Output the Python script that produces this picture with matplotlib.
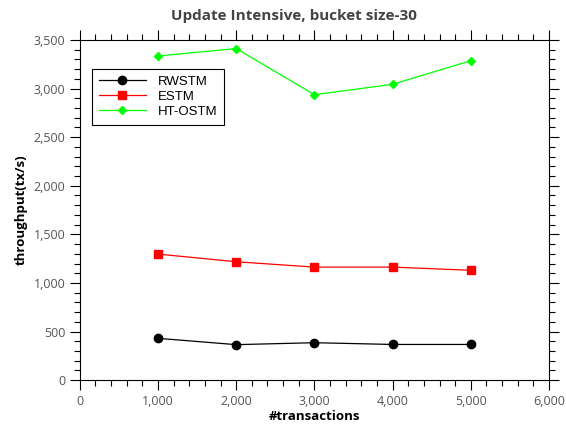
import matplotlib

matplotlib.use("Agg")
import matplotlib.pyplot as plt
from matplotlib.ticker import FuncFormatter, MultipleLocator

plt.rcParams["font.family"] = ["Open Sans", "DejaVu Sans"]

TRANSACTIONS = [1000, 2000, 3000, 4000, 5000]
RWSTM = [430, 365, 385, 367, 367]
ESTM = [1297, 1218, 1163, 1163, 1130]
HT_OSTM = [3335, 3412, 2937, 3044, 3287]

fig = plt.figure(figsize=(5.66, 4.30), dpi=100)
ax = fig.add_axes([0.141, 0.116, 0.829, 0.791])

ax.plot(TRANSACTIONS, RWSTM, color="black", lw=0.9, marker="o", ms=6, label="RWSTM")
ax.plot(TRANSACTIONS, ESTM, color="red", lw=0.9, marker="s", ms=5.5, label="ESTM")
ax.plot(TRANSACTIONS, HT_OSTM, color="#00ff00", lw=0.9, marker="D", ms=3.8, label="HT-OSTM")

ax.set_xlim(0, 6000)
ax.set_ylim(0, 3500)
ax.xaxis.set_major_locator(MultipleLocator(1000))
ax.xaxis.set_minor_locator(MultipleLocator(200))
ax.yaxis.set_major_locator(MultipleLocator(500))
ax.yaxis.set_minor_locator(MultipleLocator(100))
fmt = FuncFormatter(lambda v, _: f"{v:,.0f}")
ax.xaxis.set_major_formatter(fmt)
ax.yaxis.set_major_formatter(fmt)
ax.tick_params(which="both", direction="out", top=True, right=True, labelsize=9,
               labelcolor="#555555", width=0.8)
ax.tick_params(which="major", length=7)
ax.tick_params(which="minor", length=4)
for s in ax.spines.values():
    s.set_linewidth(0.8)

ax.set_xlabel("#transactions", fontsize=9.5, fontweight="bold", labelpad=2)
ax.set_ylabel("throughput(tx/s)", fontsize=9.5, fontweight="bold", labelpad=4)
fig.text(294 / 566, 1 - 16 / 430, "Update Intensive, bucket size-30", fontsize=11,
         fontweight="bold", color="#444444", ha="center", va="center")

leg = ax.legend(loc="upper left", bbox_to_anchor=(0.026, 0.915), fancybox=False,
                edgecolor="black", framealpha=1, handlelength=3.6, handletextpad=0.9,
                labelspacing=0.22, borderpad=0.5, borderaxespad=0,
                prop={"family": "Liberation Sans", "size": 9.5})
leg.get_frame().set_linewidth(0.8)

fig.savefig("out.png", dpi=100)
